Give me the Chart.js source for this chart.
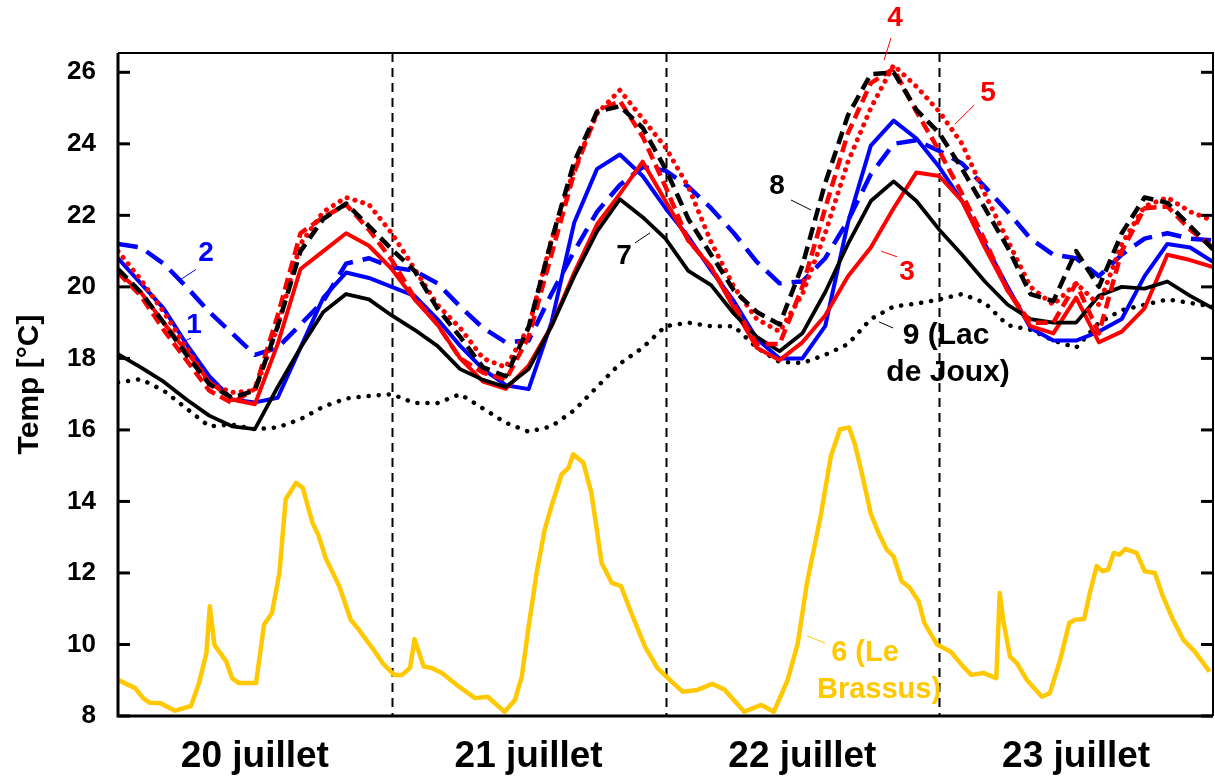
<!DOCTYPE html>
<html><head><meta charset="utf-8">
<script src="https://cdn.jsdelivr.net/npm/chart.js@4/dist/chart.umd.min.js"></script>
<style>html,body{margin:0;padding:0;background:#fff}canvas{display:block}</style>
</head><body>
<canvas id="c" width="1215" height="782"></canvas>
<script>
// ---------- data ----------
const hours = [0,2,4,6,8,10,12,14,16,18,20,22,24,26,28,30,32,34,36,38,40,42,44,46,48,50,52,54,56,58,60,62,64,66,68,70,72,74,76,78,80,82,84,86,88,90,92,94,96];
const s1BlueSolid = [20.8,20.1,19.4,18.4,17.5,16.85,16.77,16.9,18.3,19.7,20.4,20.25,20.0,19.75,19.1,18.35,17.7,17.25,17.14,19.0,21.8,23.3,23.7,23.1,22.2,21.4,20.46,19.6,18.55,18.0,18.0,18.9,21.8,23.95,24.65,24.15,23.35,22.4,21.2,20.0,18.85,18.5,18.5,18.75,19.1,20.3,21.2,21.1,20.7];
const s2BlueDashed = [21.2,21.1,20.65,20.0,19.3,18.7,18.1,18.3,18.95,19.6,20.65,20.8,20.55,20.45,20.1,19.45,18.85,18.45,18.5,19.8,21.0,22.1,22.85,23.35,23.25,22.8,22.2,21.5,20.7,20.1,20.15,20.8,21.85,23.15,24.0,24.1,23.8,23.45,22.8,22.1,21.35,20.9,20.8,20.3,20.9,21.35,21.5,21.35,21.3];
const s3RedSolid = [20.41,19.85,19.0,18.2,17.35,16.85,16.72,18.4,20.5,21.0,21.5,21.15,20.5,19.65,18.95,18.0,17.35,17.15,17.8,18.9,20.4,21.75,22.6,23.5,22.4,21.3,20.55,19.4,18.3,17.95,18.45,19.2,20.3,21.1,22.2,23.2,23.1,22.4,21.1,19.9,18.9,18.7,19.7,18.45,18.75,19.4,20.9,20.75,20.55];
const s4RedDashed = [20.4,19.75,18.8,17.95,17.1,16.75,17.15,19.2,21.5,21.95,22.3,21.6,20.75,19.7,18.95,18.0,17.6,17.4,18.6,20.9,23.2,24.9,25.2,24.2,22.8,21.3,20.55,19.5,18.4,18.4,20.0,22.2,24.3,25.7,26.1,24.9,23.8,22.6,21.3,19.9,19.0,19.0,20.1,18.7,21.0,22.2,22.25,21.6,21.1];
const s5RedDotted = [21.0,20.2,19.3,18.3,17.3,17.05,17.1,18.9,21.2,22.1,22.5,22.3,21.5,20.5,19.5,18.85,18.0,17.75,18.87,21.3,23.3,24.85,25.5,24.7,23.9,22.8,21.25,20.0,19.1,18.75,19.8,21.5,23.5,25.0,26.2,25.6,24.9,24.0,22.6,21.3,20.0,19.5,20.1,19.5,21.2,22.25,22.5,22.1,21.85];
const s7BlackSolid = [18.12,17.75,17.35,16.85,16.4,16.1,16.02,17.2,18.3,19.3,19.8,19.65,19.2,18.8,18.35,17.7,17.4,17.2,17.7,18.9,20.3,21.55,22.45,21.95,21.35,20.45,20.05,19.25,18.6,18.2,18.7,19.85,21.2,22.4,22.95,22.4,21.6,20.9,20.15,19.5,19.1,19.0,19.0,19.75,20.0,19.95,20.15,19.75,19.4];
const s8BlackDashed = [20.5,19.85,19.0,18.1,17.28,16.9,17.1,18.9,21.0,21.9,22.33,21.7,21.05,20.45,19.4,18.6,17.75,17.5,18.87,21.3,23.5,24.9,25.05,24.45,23.3,21.9,20.9,19.9,19.3,18.95,20.6,22.9,24.8,25.95,26.0,24.95,24.3,23.3,22.2,21.1,19.8,19.6,21.0,20.0,21.5,22.5,22.35,21.7,21.05];
const s9BlackDotted = [17.33,17.42,17.1,16.6,16.1,16.15,16.02,16.07,16.3,16.65,16.88,16.95,17.0,16.75,16.75,17.0,16.6,16.2,15.95,16.1,16.55,17.2,17.85,18.3,18.9,19.0,18.9,18.9,18.3,17.9,17.87,18.1,18.4,19.1,19.45,19.53,19.65,19.8,19.55,18.93,18.8,18.5,18.3,19.0,19.35,19.5,19.65,19.55,19.45];
const s6Hours = [0,1.5,2.2,2.8,3.7,5.0,6.4,7.1,7.75,8.05,8.45,9.5,10.0,10.6,12.1,12.8,13.5,14.15,14.7,15.6,16.2,17.05,17.6,18.2,19.4,20.4,21.0,22.3,23.2,24.2,24.9,25.6,26.0,26.8,27.5,28.4,29.9,31.3,32.4,33.9,34.8,35.4,36.0,36.7,37.4,38.0,38.9,39.5,39.9,40.8,41.5,42.4,43.3,44.1,45.0,46.2,47.3,48.4,49.5,50.8,52.1,53.2,54.9,56.4,57.5,58.7,59.6,60.4,61.6,62.5,63.3,64.1,64.6,65.3,66.0,66.7,67.4,68.0,68.7,69.4,70.2,70.7,71.8,73.0,74.1,74.8,75.9,77.0,77.3,77.6,78.2,78.8,79.7,81.0,81.7,82.6,83.4,83.9,84.7,85.2,85.8,86.3,86.8,87.3,87.8,88.3,89.3,90.0,90.9,91.6,92.5,93.4,94.4,95.7];
const s6Yellow = [9.01,8.78,8.5,8.37,8.36,8.15,8.28,8.92,9.76,11.07,9.99,9.52,9.06,8.92,8.92,10.55,10.88,12.0,14.06,14.52,14.38,13.4,13.03,12.42,11.63,10.69,10.46,9.9,9.48,9.15,9.15,9.34,10.15,9.38,9.34,9.2,8.82,8.5,8.54,8.12,8.45,9.1,10.5,12.0,13.2,13.87,14.76,14.94,15.32,15.08,14.24,12.28,11.72,11.63,10.88,9.94,9.34,9.0,8.68,8.73,8.9,8.73,8.12,8.31,8.12,9.0,10.04,11.72,13.59,15.27,16.02,16.07,15.6,14.67,13.65,13.1,12.65,12.46,11.77,11.59,11.2,10.6,10.0,9.8,9.38,9.15,9.2,9.06,11.44,10.69,9.66,9.48,9.0,8.54,8.64,9.57,10.6,10.69,10.71,11.44,12.19,12.05,12.09,12.56,12.51,12.67,12.56,12.05,12.0,11.35,10.69,10.13,9.8,9.24];
const yTicks = [8,10,12,14,16,18,20,22,24,26];
const dayLabels = ['20 juillet','21 juillet','22 juillet','23 juillet'];
const dayLabelHours = [12,36,60,84];
const dayBoundaries = [24,48,72];

// ---------- styling ----------
const FONT = "'Liberation Sans', Arial, Helvetica, sans-serif";
Chart.defaults.font.family = FONT;
Chart.defaults.color = '#000';
const BLUE = '#0000FF', RED = '#FF0000', BLACK = '#000000', GOLD = '#FFC800';

function pts(xs, ys){ return xs.map((x,i)=>({x:x, y:ys[i]})); }
function ds(label, xs, ys, color, width, dash, cap){
  return {label, data: pts(xs, ys), borderColor: color, borderWidth: width,
    borderDash: dash || [], borderCapStyle: cap || 'butt', borderJoinStyle: 'round',
    pointRadius: 0, tension: 0, fill: false};
}

const datasets = [
  ds('8', hours, s8BlackDashed, BLACK, 4.5, [13,7]),
  ds('5', hours, s5RedDotted, RED, 5, [0.1,8], 'round'),
  ds('4', hours, s4RedDashed, RED, 4.5, [12,6]),
  ds('7', hours, s7BlackSolid, BLACK, 3.8),
  ds('3', hours, s3RedSolid, RED, 4),
  ds('1', hours, s1BlueSolid, BLUE, 4),
  ds('2', hours, s2BlueDashed, BLUE, 4.5, [20,10]),
  ds('9', hours, s9BlackDotted, BLACK, 4.5, [0.1,10], 'round'),
  ds('6', s6Hours, s6Yellow, GOLD, 4.5)
];

// annotations (data units: hour, temperature)
const notes = [
  {text:'1', h:6.66, t:18.93, color:BLUE, size:28},
  {text:'2', h:7.72, t:20.94, color:BLUE, size:28},
  {text:'3', h:69.17, t:20.42, color:RED, size:28},
  {text:'4', h:68.12, t:27.52, color:RED, size:28},
  {text:'5', h:76.28, t:25.42, color:RED, size:28},
  {text:'6 (Le', h:65.49, t:9.76, color:GOLD, size:29},
  {text:'Brassus)', h:66.72, t:8.73, color:GOLD, size:29},
  {text:'7', h:44.36, t:20.86, color:BLACK, size:28},
  {text:'8', h:57.78, t:22.82, color:BLACK, size:28},
  {text:'9 (Lac', h:72.59, t:18.63, color:BLACK, size:30},
  {text:'de Joux)', h:72.77, t:17.59, color:BLACK, size:30}
];
const leaders = [
  {h1:6.40,t1:18.57,h2:5.70,t2:18.46,color:BLUE},
  {h1:6.84,t1:20.49,h2:5.52,t2:20.21,color:BLUE},
  {h1:66.9,t1:21.0,h2:68.3,t2:20.84,color:RED},
  {h1:67.77,t1:26.96,h2:67.16,t2:26.34,color:RED},
  {h1:75.05,t1:25.08,h2:73.38,t2:24.55,color:RED},
  {h1:60.41,t1:10.24,h2:61.99,t2:10.04,color:GOLD},
  {h1:45.33,t1:21.23,h2:46.64,t2:21.51,color:BLACK},
  {h1:59.0,t1:22.43,h2:60.76,t2:22.15,color:BLACK},
  {h1:66.72,t1:19.02,h2:67.95,t2:18.85,color:BLACK}
];

const framePlugin = {
  id: 'frame',
  beforeDatasetsDraw(chart){
    const {ctx, chartArea:a, scales:{x}} = chart;
    ctx.save();
    ctx.strokeStyle = '#000'; ctx.lineWidth = 2; ctx.setLineDash([9,6]);
    dayBoundaries.forEach(h=>{
      const px = Math.round(x.getPixelForValue(h)) + 0.5;
      ctx.beginPath(); ctx.moveTo(px, a.top); ctx.lineTo(px, a.bottom); ctx.stroke();
    });
    ctx.restore();
  },
  afterDatasetsDraw(chart){
    const {ctx, chartArea:a, scales:{y}} = chart;
    ctx.save();
    ctx.strokeStyle = '#000'; ctx.setLineDash([]);
    ctx.lineWidth = 2;
    ctx.beginPath(); ctx.moveTo(a.left, a.top); ctx.lineTo(a.right, a.top); ctx.lineTo(a.right, a.bottom); ctx.stroke();
    ctx.lineWidth = 3;
    ctx.beginPath(); ctx.moveTo(a.left, a.top); ctx.lineTo(a.left, a.bottom); ctx.lineTo(a.right, a.bottom); ctx.stroke();
    yTicks.forEach(v=>{
      const py = y.getPixelForValue(v);
      ctx.beginPath(); ctx.moveTo(a.left, py); ctx.lineTo(a.left + 12, py); ctx.stroke();
      ctx.beginPath(); ctx.moveTo(a.right, py); ctx.lineTo(a.right - 12, py); ctx.stroke();
    });
    ctx.restore();
  },
  afterDraw(chart){
    const {ctx, scales:{x, y}} = chart;
    ctx.save();
    ctx.lineWidth = 1;
    leaders.forEach(l=>{
      ctx.strokeStyle = l.color;
      ctx.beginPath();
      ctx.moveTo(x.getPixelForValue(l.h1), y.getPixelForValue(l.t1));
      ctx.lineTo(x.getPixelForValue(l.h2), y.getPixelForValue(l.t2));
      ctx.stroke();
    });
    ctx.textAlign = 'center'; ctx.textBaseline = 'middle';
    notes.forEach(n=>{
      ctx.fillStyle = n.color;
      ctx.font = 'bold ' + n.size + 'px ' + FONT;
      ctx.fillText(n.text, x.getPixelForValue(n.h), y.getPixelForValue(n.t));
    });
    ctx.restore();
  }
};

new Chart(document.getElementById('c'), {
  type: 'line',
  data: { datasets },
  options: {
    responsive: false, animation: false, devicePixelRatio: 1,
    layout: { padding: { top: 53, right: 2, left: 0, bottom: 0 } },
    plugins: { legend: { display: false }, tooltip: { enabled: false } },
    scales: {
      x: {
        type: 'linear', min: 0, max: 96,
        grid: { display: false, drawTicks: false }, border: { display: false },
        afterBuildTicks: s => { s.ticks = dayLabelHours.map(v=>({value:v})); },
        afterFit: s => { s.height = 66; },
        ticks: { autoSkip: false, maxRotation: 0, padding: 19,
          font: { size: 37, weight: 'bold' }, color: '#000',
          callback: (v, i) => dayLabels[i] }
      },
      y: {
        type: 'linear', min: 8, max: 26.54,
        grid: { display: false, drawTicks: false }, border: { display: false },
        afterBuildTicks: s => { s.ticks = yTicks.map(v=>({value:v})); },
        afterFit: s => { s.width = 118; },
        ticks: { padding: 22, font: { size: 26, weight: 'bold' }, color: '#000' },
        title: { display: true, text: 'Temp [°C]', font: { size: 30, weight: 'bold' }, color: '#000', padding: { top: 12, bottom: 0 } }
      }
    }
  },
  plugins: [framePlugin]
});
</script>
</body></html>
